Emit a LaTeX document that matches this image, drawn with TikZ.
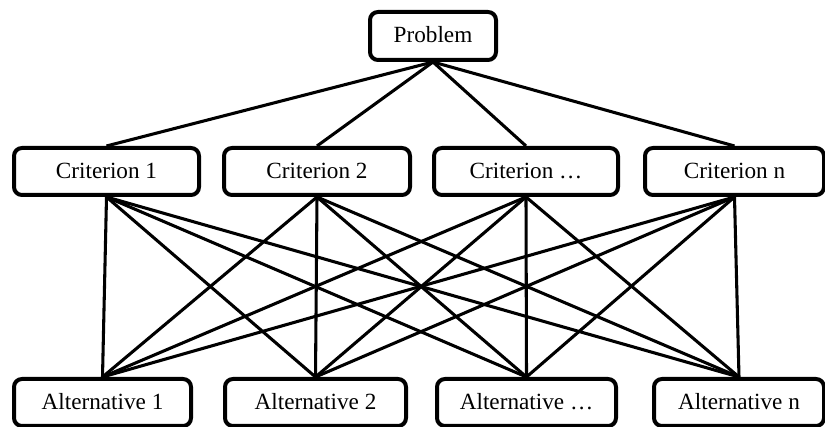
\documentclass[tikz,border=0pt]{standalone}
\usepackage{fontspec}
\setmainfont{Liberation Serif}
\begin{document}
\begin{tikzpicture}[x=0.75pt,y=-0.75pt,
  box/.style={draw=black, line width=3pt, rounded corners=6pt, fill=white,
    inner sep=0pt, font=\fontsize{17.4pt}{20pt}\selectfont, text height=11.5pt, text depth=1pt},
  link/.style={draw=black, line width=2.3pt}]
\useasboundingbox (0,0) rectangle (825,427);
% top
\node[box, minimum width=94.5pt, minimum height=36pt] (p) at (433,36) {Problem};
% criteria
\node[box, minimum width=138.75pt, minimum height=35.25pt] (c1) at (106.5,171.5) {Criterion 1};
\node[box, minimum width=139.5pt, minimum height=35.25pt] (c2) at (317,171.5) {Criterion 2};
\node[box, minimum width=138pt, minimum height=35.25pt] (c3) at (526,171.5) {Criterion …};
\node[box, minimum width=134.25pt, minimum height=35.25pt] (c4) at (734.5,171.5) {Criterion n};
% alternatives
\node[box, minimum width=132.75pt, minimum height=35.25pt] (a1) at (102.5,402.5) {Alternative 1};
\node[box, minimum width=135.75pt, minimum height=35.25pt] (a2) at (315.5,402.5) {Alternative 2};
\node[box, minimum width=134.25pt, minimum height=35.25pt] (a3) at (526.5,402.5) {Alternative …};
\node[box, minimum width=127.5pt, minimum height=35.25pt] (a4) at (739,402.5) {Alternative n};
% problem to criteria
\foreach \c in {c1,c2,c3,c4}
  \draw[link] (p.south) -- (\c.north);
% criteria to alternatives
\foreach \c in {c1,c2,c3,c4}
  \foreach \a in {a1,a2,a3,a4}
    \draw[link] (\c.south) -- (\a.north);
\end{tikzpicture}
\end{document}
